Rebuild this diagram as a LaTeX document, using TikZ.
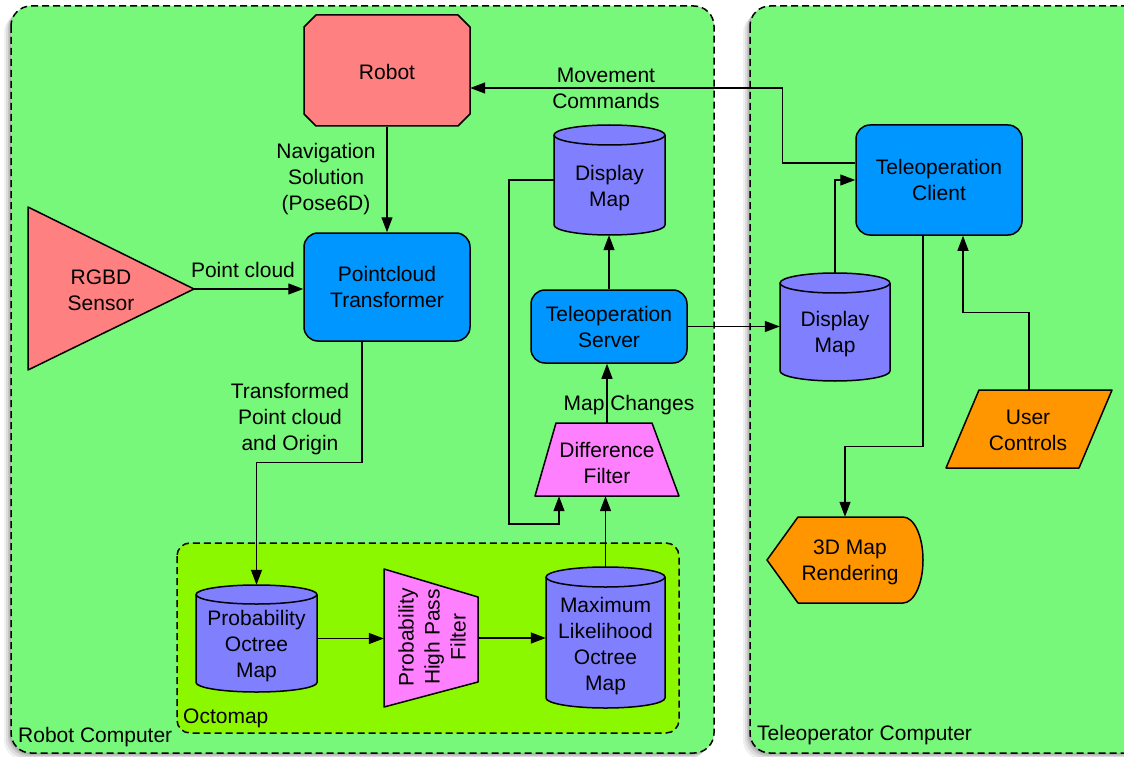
\documentclass[tikz,border=0pt]{standalone}
\usepackage{fontspec}
\setmainfont{Liberation Sans}
\usetikzlibrary{arrows.meta,calc}
\definecolor{pgreen}{RGB}{120,248,122}
\definecolor{ogreen}{RGB}{140,248,0}
\definecolor{salmon}{RGB}{255,128,128}
\definecolor{cylblue}{RGB}{128,128,255}
\definecolor{mypink}{RGB}{255,128,255}
\definecolor{myorange}{RGB}{255,150,0}
\definecolor{myblue}{RGB}{0,150,255}
\newcommand\cylshape[5]{%
  \pgfmathsetmacro\cxa{(#1+#3)/2}%
  \pgfmathsetmacro\rxa{(#3-#1)/2}%
  \pgfmathsetmacro\yta{#2+#5}%
  \pgfmathsetmacro\yba{#4-#5}%
  \pgfmathsetmacro\ybc{\yba+0.5523*#5}%
  \pgfmathsetmacro\cxl{\cxa-0.5523*\rxa}%
  \pgfmathsetmacro\cxr{\cxa+0.5523*\rxa}%
  \fill[cylblue] (#1,\yta) rectangle (#3,\yba);
  \fill[cylblue] (\cxa,\yba) ellipse[x radius=\rxa, y radius=#5];
  \draw[sl] (#1,\yta) -- (#1,\yba) .. controls (#1,\ybc) and (\cxl,#4) .. (\cxa,#4)
     .. controls (\cxr,#4) and (#3,\ybc) .. (#3,\yba) -- (#3,\yta);
  \draw[sl,fill=cylblue] (\cxa,\yta) ellipse[x radius=\rxa, y radius=#5];
}
\begin{document}
\begin{tikzpicture}[x=1pt,y=-1pt,
  every node/.style={font=\fontsize{21}{26}\selectfont, align=center, inner sep=0pt},
  sl/.style={draw=black, line width=1.5pt, line join=round},
  conn/.style={draw=black, line width=1.3pt, -{Triangle[length=15pt,width=11pt]}},
  panel/.style={draw=black, line width=1.5pt, dash pattern=on 7pt off 4pt, rounded corners=20pt},
  area/.style 2 args={minimum width=#1pt, minimum height=#2pt},
  rbox/.style={sl, fill=myblue, rounded corners=14pt}]
\useasboundingbox (0,0) rectangle (1124,757);
\clip (0,0) rectangle (1124,757);
\fill[white] (0,0) rectangle (1124,757);
% panel shadows
\foreach \d/\o in {7/0.06,5/0.08,3/0.1,1.5/0.12}{
  \fill[black, opacity=\o, rounded corners=20pt] (11-\d,6+\d) rectangle (714-\d,753+\d);
  \fill[black, opacity=\o, rounded corners=20pt] (750-\d,6+\d) rectangle (1150-\d,753+\d);
}
% panels
\draw[panel, fill=pgreen] (11,6) rectangle (714,753);
\draw[panel, fill=pgreen] (750,6) rectangle (1150,753);
\draw[panel, fill=ogreen, rounded corners=13pt] (177,543) rectangle (679,733);
\node[anchor=base west] (rclab) at (18,742) {Robot Computer};
\node[anchor=base west] (oclab) at (183,723) {Octomap};
\node[anchor=base west] (tclab) at (757,740) {Teleoperator Computer};

% Robot
\draw[sl, fill=salmon] (316,15) -- (458,15) -- (470,27) -- (470,114) -- (458,126) -- (316,126) -- (304,114) -- (304,27) -- cycle;
\node[area={166}{111}] (robot) at (387,71.5) {Robot};

% RGBD sensor
\draw[sl, fill=salmon] (28,207) -- (194,289) -- (28,370) -- cycle;
\coordinate (rgbdtip) at (194,289);
\node (rgbd) at (101,290) {RGBD\\Sensor};

% blue boxes
\node[rbox, area={166}{108}] (ptrans) at (387,287) {Pointcloud\\Transformer};
\node[rbox, area={156}{73}] (ts) at (609,326.5) {Teleoperation\\Server};
\node[rbox, area={166}{110}] (tc) at (939,180) {Teleoperation\\Client};

% cylinders
\cylshape{554}{125}{665}{235}{10}
\node[area={111}{110}] (dml) at (609.5,180) {};
\node (dmltxt) at (609.5,188) {Display\\Map};
\cylshape{780}{273}{890}{381}{10}
\node[area={110}{108}] (dmr) at (835,327) {};
\node (dmrtxt) at (835,334) {Display\\Map};
\cylshape{196}{585}{317}{692}{9.5}
\node[area={121}{107}] (pom) at (256.5,638.5) {};
\node (pomtxt) at (256.5,646) {Probability\\Octree\\Map};
\cylshape{546}{567}{665}{708}{10}
\node[area={119}{141}] (ml) at (605.5,637.5) {};
\node (mltxt) at (605.5,646) {Maximum\\Likelihood\\Octree\\Map};

% filters
\draw[sl, fill=mypink] (556,423) -- (652,423) -- (679,496) -- (535,496) -- cycle;
\node[area={144}{73}] (df) at (607,459.5) {};
\node (dftxt) at (607,463) {Difference\\Filter};
\draw[sl, fill=mypink] (384,569) -- (478,597) -- (478,682) -- (384,707) -- cycle;
\node[area={94}{138}] (phpf) at (431,638) {};
\node[rotate=90] (phpftxt) at (432,637) {Probability\\High Pass\\Filter};

% 3D map rendering
\draw[sl, fill=myorange] (767,560) -- (798,517) -- (903,517)
  .. controls (914,517) and (923,536) .. (923,560)
  .. controls (923,584) and (914,603) .. (903,603) -- (798,603) -- cycle;
\node[area={156}{86}] (map3d) at (845,560) {};
\node (map3dtxt) at (850,562) {3D Map\\Rendering};

% user controls
\draw[sl, fill=myorange] (979,390) -- (1112,390) -- (1079,468) -- (946,468) -- cycle;
\node[area={166}{78}] (uc) at (1029,429) {};
\node (uctxt) at (1028,430) {User\\Controls};

% connectors
\draw[conn] (robot.south) -- (ptrans.north);
\draw[conn] (rgbdtip) -- (rgbdtip -| ptrans.west);
\draw[conn] ([xshift=-25pt]ptrans.south) -- ++(0,121) -| (pom.north);
\draw[conn] (pom.east) -- (pom.east -| phpf.west);
\draw[conn] (phpf.east) -- (phpf.east -| ml.west);
\draw[conn] (ml.north) -- (ml.north |- df.south);
\draw[conn] (df.north) -- (df.north |- ts.south);
\draw[conn] (ts.north) -- (ts.north |- dml.south);
\coordinate (loopA) at (509,524);
\draw[conn] (dml.west) -| (loopA) -| ([xshift=-48pt]df.south);
\draw[conn] (ts.east) -- (ts.east -| dmr.west);
\draw[conn] (dmr.north) |- (tc.west);
\draw[conn] ([yshift=17pt]tc.west) -- ++(-73,0) |- ([yshift=-16.5pt]robot.east);
\draw[conn] ([xshift=-16pt]tc.south) -- ++(0,211) -| (map3d.north);
\draw[conn] (uc.north) -- ++(0,-77) -| ([xshift=24pt]tc.south);

% connector labels
\node (mvlab) at (606,88) {Movement\\Commands};
\node (navlab) at (326,179) {Navigation\\Solution\\(Pose6D)};
\node (pclab) at (243,270) {Point cloud};
\node (trlab) at (290,419) {Transformed\\Point cloud\\and Origin};
\node (mclab) at (629,405) {Map Changes};
\end{tikzpicture}
\end{document}
